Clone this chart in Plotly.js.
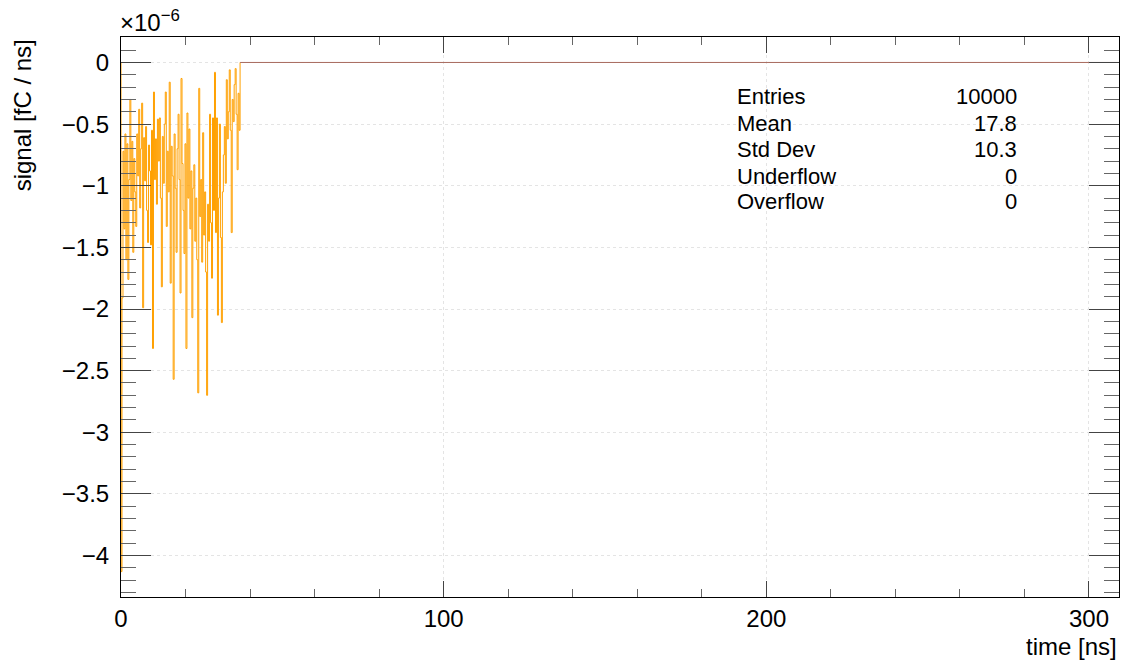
<!DOCTYPE html>
<html>
<head>
<meta charset="utf-8">
<script src="https://cdn.plot.ly/plotly-3.0.1.min.js"></script>
<style>
  html, body { margin: 0; padding: 0; background: #ffffff; }
  #chart { width: 1132px; height: 663px; }
</style>
</head>
<body>
<div id="chart"></div>
<script>
// Induced signal histogram: bin contents in units of 1e-6 fC/ns, bins of 0.305 ns from t = 0
const binWidth = 0.305;
const signal = [
  -4.13, -1.91, -0.72, -1.35, -0.58, -1.60, -0.66, -1.76, -0.95, -0.30,
  -1.12, -0.64, -1.54, -0.78, -1.05, -1.33, -0.58, -0.92, -0.38, -1.18,
  -0.70, -0.33, -1.99, -0.61, -0.96, -0.52, -1.20, -1.46, -0.67, -0.88,
  -1.48, -0.55, -2.32, -0.24, -0.95, -0.62, -1.15, -0.46, -0.80, -0.45,
  -1.10, -1.82, -0.60, -0.98, -0.50, -0.24, -1.33, -0.72, -1.05, -0.16,
  -1.79, -0.68, -0.92, -2.57, -0.58, -1.02, -1.54, -0.70, -0.42, -0.95,
  -1.87, -0.13, -0.82, -1.20, -1.55, -0.66, -2.32, -0.41, -1.10, -0.54,
  -1.35, -0.88, -2.07, -1.02, -0.83, -1.45, -1.10, -1.60, -2.68, -0.21,
  -1.25, -0.95, -1.62, -0.57, -1.40, -1.05, -1.70, -2.70, -1.15, -1.45,
  -0.42, -1.30, -1.75, -0.45, -1.20, -0.08, -1.38, -0.45, -2.05, -1.10,
  -0.50, -1.42, -2.11, -1.05, -0.75, -0.52, -0.98, -0.14, -0.62, -0.40,
  -0.06, -0.55, -1.38, -0.30, -0.48, -0.18, -0.05, -0.42, -0.87, -0.25,
  -0.55
];
const timeMax = 309.3;          // upper edge of the time axis [ns]
const yLow = -4.336, yHigh = 0.2065;

// Statistics box
const statsLabels = ['Entries', 'Mean', 'Std Dev', 'Underflow', 'Overflow'];
const statsValues = ['10000', '17.8', '10.3', '0', '0'];

// Histogram outline as a step path (starts on the baseline at t = 0)
const stepX = [0], stepY = [0];
signal.forEach((v, i) => { stepX.push(i * binWidth); stepY.push(v); });
const dataEnd = signal.length * binWidth;
stepX.push(dataEnd); stepY.push(0);

const FONT = 'Liberation Sans, Arial, Helvetica, sans-serif';

const traces = [
  {
    x: stepX, y: stepY, type: 'scatter', mode: 'lines',
    line: { shape: 'hv', color: '#ffa000', width: 1 },
    hoverinfo: 'skip', showlegend: false
  },
  {
    // empty bins after the signal
    x: [dataEnd, timeMax], y: [0, 0], type: 'scatter', mode: 'lines',
    line: { color: '#a86a5e', width: 1 },
    hoverinfo: 'skip', showlegend: false
  }
];

const axisCommon = {
  showline: true, linecolor: '#000000', linewidth: 1, mirror: 'allticks',
  ticks: 'inside', tickcolor: '#444444', tickwidth: 1,
  showgrid: true, gridcolor: '#e4e4e4', gridwidth: 1, griddash: 'dot',
  zeroline: false,
  tickfont: { family: FONT, size: 24, color: '#000000' }
};

const statsRowsY = [96.7, 123.3, 150, 176, 201.7];   // pixel rows of the stats lines
const plotTop = 37, plotBottom = 597, plotLeft = 120.7, plotRight = 1119;
const toPaperY = py => (plotBottom - py) / (plotBottom - plotTop);
const toPaperX = px => (px - plotLeft) / (plotRight - plotLeft);

const annotations = [];
statsLabels.forEach((lab, i) => {
  annotations.push({
    text: lab, xref: 'paper', yref: 'paper',
    x: toPaperX(735), y: toPaperY(statsRowsY[i]), xanchor: 'left', yanchor: 'middle',
    showarrow: false, font: { family: FONT, size: 22, color: '#000000' }
  });
  annotations.push({
    text: statsValues[i], xref: 'paper', yref: 'paper',
    x: toPaperX(1019), y: toPaperY(statsRowsY[i]), xanchor: 'right', yanchor: 'middle',
    showarrow: false, font: { family: FONT, size: 22, color: '#000000' }
  });
});
// axis titles, right/top aligned
annotations.push({
  text: 'time [ns]', xref: 'paper', yref: 'paper', x: 1, y: toPaperY(646),
  xanchor: 'right', yanchor: 'middle', showarrow: false,
  font: { family: FONT, size: 24, color: '#000000' }
});
annotations.push({
  text: 'signal [fC / ns]', xref: 'paper', yref: 'paper', x: toPaperX(22), y: 1,
  xanchor: 'center', yanchor: 'top', textangle: -90, showarrow: false,
  font: { family: FONT, size: 24, color: '#000000' }
});
// axis exponent
annotations.push({
  text: '×10<sup>−6</sup>', xref: 'paper', yref: 'paper', x: toPaperX(118), y: toPaperY(38),
  xanchor: 'left', yanchor: 'bottom', showarrow: false,
  font: { family: FONT, size: 24, color: '#000000' }
});

const layout = {
  width: 1132, height: 663,
  margin: { l: 121, r: 13, t: 37, b: 66, pad: 0 },
  paper_bgcolor: '#ffffff', plot_bgcolor: '#ffffff',
  showlegend: false,
  xaxis: Object.assign({}, axisCommon, {
    range: [0, timeMax], dtick: 100, tick0: 0, ticklen: 16,
    minor: { dtick: 20, ticklen: 8, tickcolor: '#666666', showgrid: false, ticks: 'inside' }
  }),
  yaxis: Object.assign({}, axisCommon, {
    range: [yLow, yHigh], dtick: 0.5, tick0: 0, ticklen: 30,
    ticklabelstandoff: 6,
    minor: { dtick: 0.1, ticklen: 15, tickcolor: '#666666', showgrid: false, ticks: 'inside' }
  }),
  annotations: annotations
};

Plotly.newPlot('chart', traces, layout, { staticPlot: true, displayModeBar: false });
</script>
</body>
</html>
